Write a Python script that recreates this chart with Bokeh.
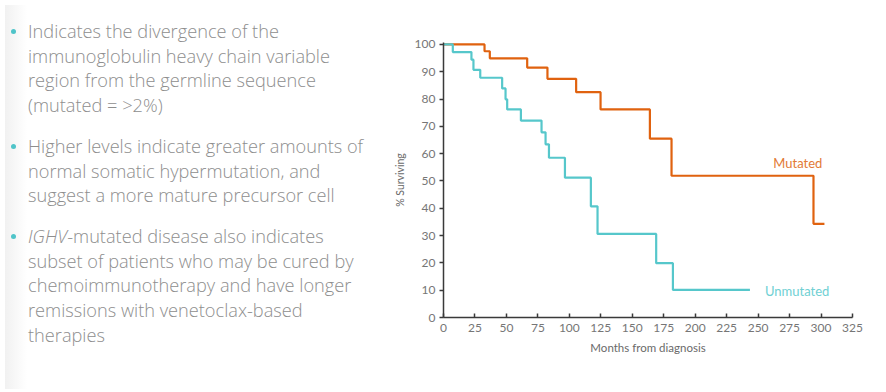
from bokeh.plotting import figure
from bokeh.models import Div, Range1d, FixedTicker
from bokeh.layouts import row
from bokeh.core.properties import value
from bokeh.embed import file_html
from bokeh.resources import INLINE

# ---- data ----
mut_months = [0, 32.6, 36.8, 66.5, 82.6, 105.4, 124.8, 164.0, 181.2, 294.0, 302.7]
mut_surv = [100, 97.5, 94.9, 91.5, 87.4, 82.5, 76.2, 65.5, 51.9, 34.3, 34.3]

unm_months = [0, 7.4, 22.2, 23.8, 29.2, 46.6, 49.3, 50.6, 61.5, 77.9, 81.1, 83.8,
              96.5, 117.1, 122.4, 169.0, 182.3, 243.5]
unm_surv = [100, 97.2, 94.4, 90.7, 87.8, 83.9, 79.9, 76.2, 72.1, 67.8, 63.4, 58.5,
            51.2, 40.7, 30.6, 19.9, 10.1, 10.1]

x_ticks = [0, 25, 50, 75, 100, 125, 150, 175, 200, 225, 250, 275, 300, 325]
y_ticks = [0, 10, 20, 30, 40, 50, 60, 70, 80, 90, 100]

series_names = ["Mutated", "Unmutated"]
label_x = [301, 255.4]
label_y = [56.7, 9.8]

bullets = [
    ["Indicates the divergence of the",
     "immunoglobulin heavy chain variable",
     "region from the germline sequence",
     "(mutated = &gt;2%)"],
    ["Higher levels indicate greater amounts of",
     "normal somatic hypermutation, and",
     "suggest a more mature precursor cell"],
    ["<i>IGHV</i>-mutated disease also indicates",
     "subset of patients who may be cured by",
     "chemoimmunotherapy and have longer",
     "remissions with venetoclax-based",
     "therapies"],
]

ORANGE = "#E0620F"
ORANGE_TXT = "#E27A35"
CYAN = "#56C7CB"
CYAN_TXT = "#6FD0D3"

# ---- left text block ----
parts = []
for i, lines in enumerate(bullets):
    mt = "0px" if i == 0 else "16px"
    parts.append(
        f'<div style="position:relative;padding-left:23px;margin-top:{mt};'
        f'line-height:24.7px;white-space:nowrap;">'
        f'<span style="position:absolute;left:6px;top:10px;width:5px;height:5px;'
        f'border-radius:50%;background:#4FC4C9;"></span>'
        + "<br>".join(lines) + "</div>"
    )
html = (
    '<div style="font-family:\'Open Sans\',sans-serif;font-weight:300;font-size:18.2px;'
    'color:#8e8e8e;padding-top:14px;">' + "".join(parts) + "</div>"
)
div = Div(text=html, width=372, height=384,
          styles={"background": "linear-gradient(to right,#f1f1f1 0px,#ffffff 22px)"})

# ---- chart ----
p = figure(output_backend="svg", toolbar_location=None,
           frame_width=409, frame_height=275,
           min_border_left=61, min_border_right=28,
           min_border_top=42, min_border_bottom=67,
           x_range=Range1d(0, 325), y_range=Range1d(0, 100.7))
p.outline_line_color = None
p.grid.grid_line_color = None
p.background_fill_color = "white"
p.border_fill_color = "white"

p.step(mut_months, mut_surv, mode="after", line_color=ORANGE, line_width=2.2)
p.step(unm_months, unm_surv, mode="after", line_color=CYAN, line_width=2.2)

p.text(x=[label_x[0]], y=[label_y[0]], text=[series_names[0]],
       text_color=ORANGE_TXT, text_font=value("Lato"), text_font_size="13px",
       text_align="right", text_baseline="middle")
p.text(x=[label_x[1]], y=[label_y[1]], text=[series_names[1]],
       text_color=CYAN_TXT, text_font=value("Lato"), text_font_size="13px",
       text_align="left", text_baseline="middle")

p.xaxis.ticker = FixedTicker(ticks=x_ticks)
p.yaxis.ticker = FixedTicker(ticks=y_ticks)
p.xaxis.axis_label = "Months from diagnosis"
p.yaxis.axis_label = "% Surviving"
for ax in (p.xaxis, p.yaxis):
    ax.axis_line_color = "#3a3a3a"
    ax.axis_line_width = 1.5
    ax.major_tick_line_color = "#3a3a3a"
    ax.major_tick_line_width = 1.5
    ax.minor_tick_line_color = None
    ax.major_label_text_font = "Lato"
    ax.major_label_text_font_size = "12px"
    ax.major_label_text_color = "#767676"
    ax.axis_label_text_font = "Lato"
    ax.axis_label_text_font_style = "normal"
    ax.axis_label_text_color = "#6a6a6a"
p.xaxis.axis_label_text_font_size = "11.5px"
p.yaxis.axis_label_text_font_size = "10.5px"
p.xaxis.major_tick_in = 4
p.xaxis.major_tick_out = 0
p.yaxis.major_tick_in = 0
p.yaxis.major_tick_out = 4
p.xaxis.major_label_standoff = 6
p.yaxis.major_label_standoff = 4
p.xaxis.axis_label_standoff = 6
p.yaxis.axis_label_standoff = 6

layout = row(div, p)
open("out.html", "w").write(file_html(layout, INLINE))
